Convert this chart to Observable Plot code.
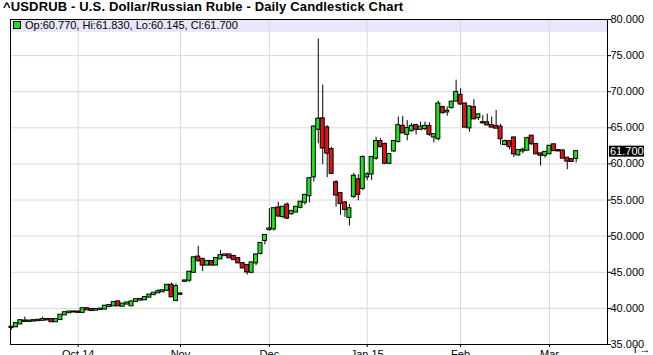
<!DOCTYPE html>
<html><head><meta charset="utf-8">
<script src="https://cdn.jsdelivr.net/npm/d3@7"></script>
<script src="https://cdn.jsdelivr.net/npm/@observablehq/plot@0.6"></script>
<style>
body{margin:0;background:#fff;}
#wrap{position:relative;width:653px;height:355px;overflow:hidden;font-family:"Liberation Sans",Arial,sans-serif;}
#title{position:absolute;left:3px;top:0px;font-weight:bold;font-size:13px;letter-spacing:0.15px;line-height:13px;color:#000;white-space:nowrap;}
#legend{position:absolute;left:13px;top:19px;font-size:11px;line-height:13px;color:#000;white-space:nowrap;}
#legend .sq{display:inline-block;width:6px;height:6px;border:1px solid #000;background:#1ee01e;margin-right:4px;vertical-align:0px;}
</style></head>
<body>
<div id="wrap">
<div id="chart"></div>
<div id="title"></div>
<div id="legend"></div>
</div>
<script>
const titleText = "^USDRUB - U.S. Dollar/Russian Ruble - Daily Candlestick Chart";
const legendText = "Op:60.770, Hi:61.830, Lo:60.145, Cl:61.700";
const lastClose = 61.7;

const open = [37.35,37.45,37.85,38.25,38.2,38.25,38.3,38.35,38.45,38.45,38.15,38.45,39.1,39.4,39.5,39.5,39.45,39.95,39.85,39.75,39.85,39.9,40.25,40.35,40.9,40.3,40.6,40.35,40.95,41.15,41.2,41.55,41.9,42.15,42.3,42.5,43.2,41.1,42.0,43.75,43.9,45.0,47.1,46.8,46.0,46.5,46.0,46.85,47.3,47.4,47.2,46.9,46.2,45.95,45.0,46.3,47.6,49.4,50.9,51.0,53.9,52.7,54.3,53.1,53.35,54.0,54.7,55.6,58.2,64.8,66.25,65.0,62.0,57.4,55.9,54.6,52.6,55.5,57.8,56.6,58.2,58.6,60.8,63.1,62.7,60.1,61.8,63.1,65.2,64.1,64.6,65.3,64.8,64.9,65.2,63.75,63.5,67.8,67.2,67.8,68.7,69.5,68.3,65.0,67.8,66.4,65.7,65.7,65.3,65.2,65.1,62.7,63.1,63.6,61.25,61.8,61.9,63.85,62.7,61.4,61.2,61.4,62.65,61.85,61.8,60.8,60.6,60.77];
const high = [37.5,37.95,38.35,38.8,38.3,38.35,38.4,38.8,38.55,38.5,38.5,39.1,39.45,39.55,39.6,39.55,40.0,40.1,39.9,39.9,39.95,40.35,40.5,40.85,41.0,40.65,40.85,40.95,41.25,41.3,41.55,41.9,42.15,42.6,42.5,43.3,43.5,43.4,42.1,43.9,45.1,47.1,48.6,46.9,46.6,46.6,47.0,48.0,47.5,47.5,47.3,47.0,46.3,46.0,46.4,47.5,49.1,50.2,53.8,53.9,54.7,54.1,54.6,53.6,54.1,54.8,55.8,58.1,65.3,77.3,70.9,65.3,62.3,57.7,56.0,54.8,54.4,58.7,58.5,61.1,58.8,61.0,63.7,63.5,62.9,61.4,63.2,66.5,66.6,66.0,65.6,65.5,65.8,65.8,65.7,64.1,68.7,68.0,67.9,68.7,71.6,70.4,68.4,68.0,68.9,66.9,66.7,66.9,66.5,67.4,65.5,63.3,63.2,63.7,62.0,62.2,63.7,63.9,62.75,61.45,61.7,62.5,62.7,62.0,61.9,60.9,60.7,61.83];
const low = [37.0,37.4,37.8,38.15,38.1,38.15,38.2,38.3,38.35,38.05,38.1,38.4,39.05,39.35,39.4,39.4,39.4,39.75,39.65,39.7,39.8,39.85,40.2,40.3,40.3,40.25,40.55,40.3,40.9,41.0,41.1,41.5,41.85,42.1,42.2,42.4,41.5,40.9,41.8,43.6,43.6,44.9,46.4,45.1,45.9,45.9,45.9,46.8,47.2,46.9,46.7,46.2,45.5,44.6,44.8,45.9,47.4,48.8,50.7,50.7,52.6,52.5,52.3,52.9,53.2,53.8,54.3,54.6,57.5,62.8,59.9,58.1,58.5,54.0,52.9,52.6,51.4,55.2,54.9,56.3,57.7,57.7,60.5,62.2,59.9,59.9,61.6,62.9,64.2,63.2,64.4,64.0,64.6,64.6,63.8,62.9,63.2,66.9,66.6,67.6,68.6,68.1,65.0,64.4,66.1,66.0,65.5,65.3,65.0,64.9,62.6,62.5,61.95,60.9,61.1,61.4,61.8,62.55,61.3,59.7,60.8,61.3,61.7,61.7,60.7,59.2,60.2,60.145];
const close = [37.4,37.9,38.3,38.2,38.25,38.3,38.35,38.45,38.4,38.15,38.45,39.05,39.4,39.5,39.5,39.45,39.95,39.8,39.7,39.85,39.9,40.3,40.4,40.8,40.35,40.6,40.75,40.9,41.2,41.25,41.5,41.85,42.1,42.3,42.45,43.2,41.6,43.0,41.95,43.8,45.0,47.0,46.6,46.0,46.5,46.0,46.9,47.3,47.4,47.0,46.75,46.3,45.6,45.05,46.3,47.4,49.0,50.1,51.0,53.8,52.8,54.0,52.5,53.4,54.0,54.7,55.65,57.95,65.1,66.2,62.2,61.5,58.7,55.7,54.5,53.7,53.8,58.3,55.8,60.9,58.5,60.9,63.1,62.4,60.1,61.3,63.1,65.3,64.3,64.9,65.2,64.8,65.1,65.2,64.1,64.05,68.3,67.1,67.3,68.55,69.9,68.3,65.1,67.9,66.25,66.8,65.7,65.4,65.1,64.95,63.5,63.1,62.4,61.4,61.85,61.9,63.5,62.8,61.4,61.2,61.6,62.45,61.85,61.8,60.8,60.4,60.35,61.7];

const tickIdx = [15, 38, 58, 80, 101, 121];
const tickLabels = ["Oct 14", "Nov", "Dec", "Jan 15", "Feb", "Mar"];
const yTicks = [35, 40, 45, 50, 55, 60, 65, 70, 75, 80];
const band = [{y1: 78.2, y2: 80}];
const xDomain = [-0.225, 134.05];

const up = "#1ee01e", down = "#e01414";
const data = open.map((o, i) => ({i, open: o, high: high[i], low: low[i], close: close[i]}));

const chart = Plot.plot({
  width: 653, height: 355,
  marginLeft: 10, marginRight: 46, marginTop: 19, marginBottom: 11,
  x: {type: "linear", domain: xDomain},
  y: {domain: [35, 80]},
  style: {fontFamily: "Liberation Sans, Arial, sans-serif", fontSize: "11px", background: "white", color: "black", overflow: "visible"},
  marks: [
    Plot.rect(band, {y1: "y1", y2: "y2", fill: "#e8e8fa"}),
    Plot.gridY(yTicks, {stroke: "#d9d9d9", strokeOpacity: 1}),
    Plot.gridX(tickIdx, {stroke: "#d9d9d9", strokeOpacity: 1}),
    Plot.ruleX(data, {x: "i", y1: "low", y2: "high", stroke: "black", strokeWidth: 1}),
    Plot.rect(data, {x1: d => d.i - 0.45, x2: d => d.i + 0.45, y1: "open", y2: "close",
      fill: d => d.close >= d.open ? up : down, stroke: "black", strokeWidth: 1, insetTop: -0.5, insetBottom: -0.5}),
    Plot.frame({stroke: "black"}),
    Plot.axisY(yTicks, {anchor: "right", tickSize: 3, tickPadding: 0, tickFormat: d3.format(".3f"), fontSize: 11}),
    Plot.axisX(tickIdx, {anchor: "bottom", tickSize: 3, tickPadding: 3, tickFormat: d => tickLabels[tickIdx.indexOf(d)], fontSize: 11})
  ]
});
document.getElementById("chart").appendChild(chart);

// last-value marker on the right axis
const ys = chart.scale("y"), xs = chart.scale("x");
const yy = ys.apply(lastClose), xr = xs.range[1];
const g = d3.select(chart).append("g").attr("text-anchor", "start");
g.append("rect").attr("x", xr + 2).attr("y", yy - 5.5).attr("width", 35).attr("height", 11).attr("fill", "black");
g.append("text").attr("x", xr + 3).attr("y", yy).attr("dy", "0.35em").attr("fill", "white").attr("text-anchor", "start")
  .attr("font-size", 11).attr("font-family", "Liberation Sans, Arial, sans-serif").text(d3.format(".3f")(lastClose));

document.getElementById("title").textContent = titleText;
document.getElementById("legend").innerHTML = '<span class="sq"></span>' + legendText;
</script>
</body></html>
